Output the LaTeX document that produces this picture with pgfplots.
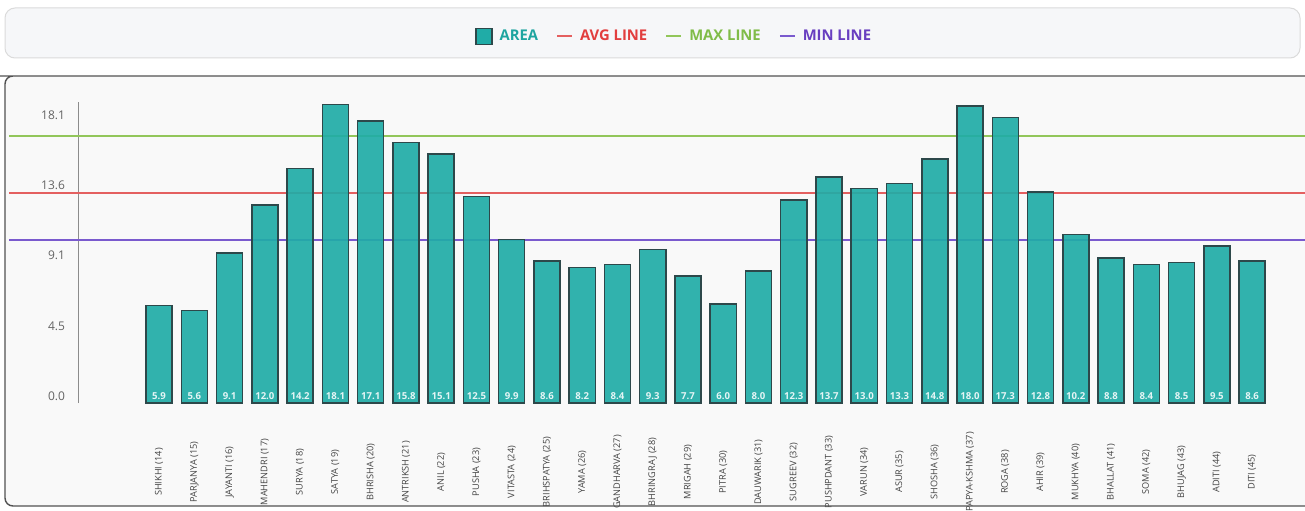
\documentclass[border=0pt]{standalone}
\usepackage{pgfplots}
\pgfplotsset{compat=1.18}
\usepackage{pgfplotstable}
\usepackage{fontspec}
\setmainfont{Open Sans}

\definecolor{areafill}{RGB}{32,172,167}
\definecolor{areaedge}{RGB}{45,72,74}
\definecolor{areatext}{RGB}{30,165,160}
\definecolor{avgline}{RGB}{228,96,96}
\definecolor{avgtext}{RGB}{226,62,62}
\definecolor{maxline}{RGB}{146,198,90}
\definecolor{maxtext}{RGB}{128,188,72}
\definecolor{minline}{RGB}{122,90,206}
\definecolor{mintext}{RGB}{104,62,192}
\definecolor{panelbg}{RGB}{249,249,249}
\definecolor{legendbg}{RGB}{246,247,249}
\definecolor{ticktext}{RGB}{100,100,100}
\definecolor{labeltext}{RGB}{68,68,68}

\pgfplotsset{
	lineleg/.style={legend image code/.code={\draw[##1] (0pt,0pt) -- (7.5pt,0pt);}},
	barleg/.style={legend image code/.code={\draw[##1, fill opacity=1] (0pt,-4pt) rectangle (8pt,4pt);}},
}

% area per zone, x = position of the bar
\pgfplotstableread{
x y
0 5.9
1 5.6
2 9.1
3 12.0
4 14.2
5 18.1
6 17.1
7 15.8
8 15.1
9 12.5
10 9.9
11 8.6
12 8.2
13 8.4
14 9.3
15 7.7
16 6.0
17 8.0
18 12.3
19 13.7
20 13.0
21 13.3
22 14.8
23 18.0
24 17.3
25 12.8
26 10.2
27 8.8
28 8.4
29 8.5
30 9.5
31 8.6
}\areadata

\begin{document}
\begin{tikzpicture}
	\useasboundingbox (0,0) rectangle (652.5pt,255pt);
	% frames
	\fill[white] (0,0) rectangle (652.5pt,255pt);
	\draw[draw=black!14, fill=legendbg, rounded corners=5pt, line width=0.5pt] (2.5pt,226pt) rectangle (650pt,251pt);
	\fill[panelbg, rounded corners=4pt] (2.5pt,2pt) rectangle (662pt,217pt);

	\begin{axis}[
			at={(39pt,53.5pt)}, anchor=south west,
			scale only axis,
			width=613.5pt, height=150.5pt,
			xmin=-2.3, xmax=32.5,
			ymin=0, ymax=18.24,
			clip=false,
			/pgf/number format/assume math mode=true,
			axis y line*=left,
			axis x line*=bottom,
			x axis line style={draw=none},
			y axis line style={draw=black!45, line width=0.5pt},
			major tick length=0pt,
			ytick={0.42,4.67,8.93,13.17,17.45},
			yticklabels={0.0,4.5,9.1,13.6,18.1},
			yticklabel style={font=\fontsize{6}{7}\selectfont, text=ticktext, xshift=-3pt},
			xtick={0,...,31},
			xticklabels={SHIKHI (14),PARJANYA (15),JAYANTI (16),MAHENDRI (17),SURYA (18),SATYA (19),BHRISHA (20),ANTRIKSH (21),ANIL (22),PUSHA (23),VITASTA (24),BRIHSPATYA (25),YAMA (26),GANDHARVA (27),BHRINGRAJ (28),MRIGAH (29),PITRA (30),DAUWARIK (31),SUGREEV (32),PUSHPDANT (33),VARUN (34),ASUR (35),SHOSHA (36),PAPYA-KSHMA (37),ROGA (38),AHIR (39),MUKHYA (40),BHALLAT (41),SOMA (42),BHUJAG (43),ADITI (44),DITI (45)},
			xticklabel style={yshift=-34.5pt, rotate=90, anchor=center, font=\fontsize{4.6}{5}\selectfont, text=labeltext},
			legend style={at={(axis description cs:0.4866,1.218)}, anchor=center,
					draw=none, fill=none, legend columns=4,
					font=\fontsize{7.4}{8}\selectfont\bfseries,
					/tikz/every odd column/.append style={column sep=1.5pt},
					/tikz/every even column/.append style={column sep=7pt}},
		]

		\addplot[forget plot, avgline, line width=1pt] coordinates {(-4.25,12.7) (32.5,12.7)};
		\addplot[forget plot, maxline, line width=1pt] coordinates {(-4.25,16.2) (32.5,16.2)};
		\addplot[forget plot, minline, line width=1pt] coordinates {(-4.25,9.9) (32.5,9.9)};

		\addplot[ybar, bar width=0.74, fill=areafill, fill opacity=0.92, draw=areaedge, line width=0.75pt, barleg]
		table[x=x, y=y] {\areadata};

		% value labels at the foot of each bar
		\addplot[forget plot, draw=none, mark=none, point meta=explicit,
			nodes near coords={\pgfmathprintnumber[fixed,fixed zerofill,precision=1,assume math mode=true]{\pgfplotspointmeta}},
			every node near coord/.append style={anchor=center, yshift=3.6pt, text=white!88!areafill,
					font=\fontsize{4.8}{5}\selectfont\bfseries}]
		table[x=x, y expr=0, meta=y] {\areadata};

		\addlegendimage{lineleg, avgline, line width=1pt}
		\addlegendimage{lineleg, maxline, line width=1pt}
		\addlegendimage{lineleg, minline, line width=1pt}
		\legend{\textcolor{areatext}{AREA}, \textcolor{avgtext}{AVG LINE}, \textcolor{maxtext}{MAX LINE}, \textcolor{mintext}{MIN LINE}}
	\end{axis}

	\draw[black!68, line width=0.7pt, rounded corners=4pt] (662pt,217pt) -- (4pt,217pt) -- (2.5pt,217pt) -- (2.5pt,2pt) -- (662pt,2pt);
\end{tikzpicture}
\end{document}
